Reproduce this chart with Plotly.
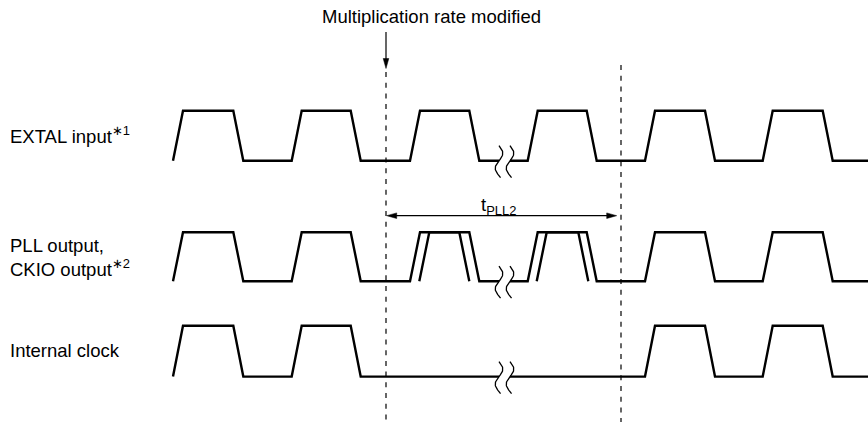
import numpy as np
import plotly.graph_objects as go

W, H = 868, 422

# ---- data (time axis in diagram units, rows top->bottom) ----
row_labels = ["EXTAL input<sup>∗1</sup>", "PLL output,<br>CKIO output<sup>∗2</sup>", "Internal clock"]
row_high = [110.7, 232.3, 325.7]
row_low = [160.7, 281.2, 376.6]
label_y = [135.0, 257.0, 350.5]

extal_rise = [173.0, 291.7, 410.0, 527.7, 645.0, 762.7]
extal_fall = [233.3, 350.7, 469.3, 586.7, 705.0, 822.7]
pll_rise = extal_rise
pll_fall = extal_fall
pll_alt_rise = [419.3, 536.7]
pll_alt_fall = [459.3, 578.3]
int_rise = [173.0, 291.7, 645.0, 762.7]
int_fall = [233.3, 350.7, 705.0, 822.7]

edge = 10.0
t_start, t_end = 173.0, 868.0
t_mod = 386.0     # multiplication rate modified
t_lock = 621.0    # end of tPLL2
break_x = [499.0, 510.0]

title_text = "Multiplication rate modified"
tpll_text = "t<sub>PLL2</sub>"

FONT = "Liberation Sans, Arial, sans-serif"
FS = 18.5
LW = 2.4

fig = go.Figure()


def add_line(xs, ys, width=LW, dash=None, color="black"):
    fig.add_trace(go.Scatter(x=xs, y=ys, mode="lines",
                             line=dict(color=color, width=width, dash=dash),
                             hoverinfo="skip", showlegend=False))


def waveform(rises, falls, lo, hi):
    ev = sorted([(t, "r") for t in rises] + [(t, "f") for t in falls])
    xs, ys = [], []
    if ev[0][0] > t_start:
        xs.append(t_start); ys.append(lo)
    for t, k in ev:
        if k == "r":
            xs += [t, t + edge]; ys += [lo, hi]
        else:
            xs += [t, t + edge]; ys += [hi, lo]
    xs.append(t_end); ys.append(lo)
    # insert break gap
    ox, oy = [], []
    for i in range(len(xs) - 1):
        ox.append(xs[i]); oy.append(ys[i])
        if ys[i] == lo and ys[i + 1] == lo and xs[i] < break_x[0] and xs[i + 1] > break_x[1]:
            ox += [break_x[0], None, break_x[1]]
            oy += [lo, None, lo]
    ox.append(xs[-1]); oy.append(ys[-1])
    return ox, oy


def squiggles(lo):
    for bx in break_x:
        yy = np.linspace(lo - 15, lo + 17, 60)
        xx = bx + 3.8 * np.sin(2 * np.pi * (lo - yy) / 30.0)
        add_line(list(xx), list(yy), width=1.3)


# rows
for (r, f), lo, hi in zip([(extal_rise, extal_fall), (pll_rise, pll_fall), (int_rise, int_fall)],
                          row_low, row_high):
    x, y = waveform(r, f, lo, hi)
    add_line(x, y)
    squiggles(lo)

# PLL alternate edges (frequency changing)
lo, hi = row_low[1], row_high[1]
for r, f in zip(pll_alt_rise, pll_alt_fall):
    add_line([r, r + edge, f, f + edge], [lo, hi, hi, lo])

# dashed markers
add_line([t_mod, t_mod], [72, H], width=1.2, dash="5px,5.7px")
add_line([t_lock, t_lock], [65, H], width=1.2, dash="5px,5.7px")


def arrow_head(tipx, tipy, dx, dy, length=10.0, half=2.8):
    bx, by = tipx - dx * length, tipy - dy * length
    px, py = -dy * half, dx * half
    fig.add_trace(go.Scatter(x=[tipx, bx + px, bx - px, tipx], y=[tipy, by + py, by - py, tipy],
                             mode="lines", fill="toself", fillcolor="black",
                             line=dict(color="black", width=0.5),
                             hoverinfo="skip", showlegend=False))


# top arrow
add_line([t_mod, t_mod], [32, 60], width=1.2)
arrow_head(t_mod, 68.5, 0, 1)

# tPLL2 double arrow
ya = 215.7
add_line([t_mod + 6, t_lock - 10], [ya, ya], width=1.2)
arrow_head(t_mod + 0.7, ya, -1, 0)
arrow_head(t_lock - 4.3, ya, 1, 0)

ann = []
ann.append(dict(x=431, y=16, text=title_text, xanchor="center", yanchor="middle"))
ann.append(dict(x=478.5, y=206, text=tpll_text, xanchor="left", yanchor="middle"))
for lab, yl in zip(row_labels, label_y):
    ann.append(dict(x=8, y=yl, text=lab, xanchor="left", yanchor="middle", align="left"))
for a in ann:
    a.update(xref="x", yref="y", showarrow=False, font=dict(family=FONT, size=FS, color="black"))

fig.update_layout(
    width=W, height=H,
    margin=dict(l=0, r=0, t=0, b=0),
    paper_bgcolor="white", plot_bgcolor="white",
    xaxis=dict(range=[0, W], visible=False, fixedrange=True),
    yaxis=dict(range=[H, 0], visible=False, fixedrange=True),
    annotations=ann,
    showlegend=False,
)

fig.write_html("out.html", config={"displayModeBar": False},
               post_script="document.body.style.margin='0';document.body.style.overflow='hidden';")
